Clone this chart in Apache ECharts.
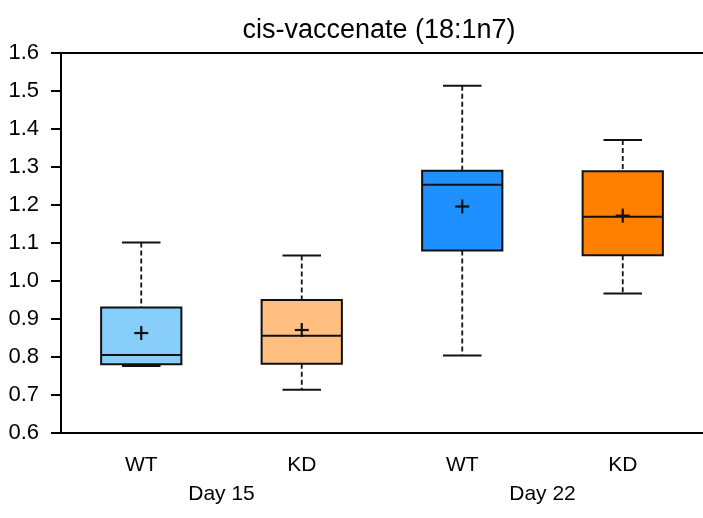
<!DOCTYPE html>
<html>
<head>
<meta charset="utf-8">
<script src="https://cdn.jsdelivr.net/npm/echarts@6/dist/echarts.min.js"></script>
<style>html,body{margin:0;padding:0;background:#fff}#c{width:703px;height:518px}</style>
</head>
<body>
<div id="c"></div>
<script>
const titleText = 'cis-vaccenate (18:1n7)';
const categories = ['WT', 'KD', 'WT', 'KD'];
const groups = ['Day 15', 'Day 22'];
const minV = [0.776, 0.714, 0.804, 0.967];
const q1V = [0.781, 0.782, 1.080, 1.068];
const medV = [0.805, 0.856, 1.253, 1.169];
const q3V = [0.930, 0.950, 1.290, 1.289];
const maxV = [1.101, 1.067, 1.514, 1.371];
const meanV = [0.863, 0.871, 1.196, 1.172];
const boxColors = ['#87CEFA', '#FFBF80', '#1E90FF', '#FF8000'];

const FONT = "'Liberation Sans', Arial, sans-serif";
const data = categories.map((c, i) => [i, minV[i], q1V[i], medV[i], q3V[i], maxV[i], meanV[i]]);

const chart = echarts.init(document.getElementById('c'), null, {renderer: 'canvas'});
chart.setOption({
  animation: false,
  backgroundColor: '#fff',
  title: {
    text: titleText, left: 374, top: 12, textAlign: 'center',
    textStyle: {fontFamily: FONT, fontSize: 27, fontWeight: 'normal', color: '#000'}
  },
  grid: {left: 61, right: 0, top: 53, bottom: 85, containLabel: false},
  xAxis: [
    {
      type: 'category', data: categories, position: 'bottom',
      axisLine: {lineStyle: {color: '#000', width: 2}},
      axisTick: {alignWithLabel: true, length: 10, lineStyle: {color: '#000', width: 2}},
      axisLabel: {fontFamily: FONT, fontSize: 21, color: '#000', margin: 22}
    },
    {
      type: 'category', data: categories, position: 'top',
      axisLine: {lineStyle: {color: '#000', width: 2}},
      axisTick: {show: false}, axisLabel: {show: false}
    },
    {
      type: 'category', data: groups, position: 'bottom',
      axisLine: {show: false}, axisTick: {show: false},
      axisLabel: {fontFamily: FONT, fontSize: 21, color: '#000', margin: 51}
    }
  ],
  yAxis: {
    type: 'value', min: 0.6, max: 1.6, interval: 0.1,
    axisLine: {show: true, lineStyle: {color: '#000', width: 2}},
    axisTick: {show: true, length: 10, lineStyle: {color: '#000', width: 2}},
    splitLine: {show: false},
    axisLabel: {fontFamily: FONT, fontSize: 22, color: '#000', margin: 22,
      formatter: v => v.toFixed(1)}
  },
  series: [{
    type: 'custom',
    xAxisIndex: 0, yAxisIndex: 0,
    data: data,
    clip: false,
    encode: {x: 0, y: [1, 2, 3, 4, 5, 6]},
    renderItem: function (params, api) {
      const idx = api.value(0);
      const band = api.size([1, 0])[0];
      const bw = band * 0.5;
      const cw = band * 0.24;
      const pMin = api.coord([idx, api.value(1)]);
      const pQ1 = api.coord([idx, api.value(2)]);
      const pMed = api.coord([idx, api.value(3)]);
      const pQ3 = api.coord([idx, api.value(4)]);
      const pMax = api.coord([idx, api.value(5)]);
      const pMean = api.coord([idx, api.value(6)]);
      const cx = pMed[0];
      const black = '#111';
      const dash = {stroke: black, lineWidth: 1.8, lineDash: [5, 3]};
      const solid = {stroke: black, lineWidth: 2};
      const pm = 7;
      return {
        type: 'group',
        children: [
          {type: 'line', shape: {x1: cx, y1: pMax[1], x2: cx, y2: pQ3[1]}, style: dash},
          {type: 'line', shape: {x1: cx, y1: pQ1[1], x2: cx, y2: pMin[1]}, style: dash},
          {type: 'line', shape: {x1: cx - cw / 2, y1: pMax[1], x2: cx + cw / 2, y2: pMax[1]}, style: solid},
          {type: 'line', shape: {x1: cx - cw / 2, y1: pMin[1], x2: cx + cw / 2, y2: pMin[1]}, style: solid},
          {type: 'rect', shape: {x: cx - bw / 2, y: pQ3[1], width: bw, height: pQ1[1] - pQ3[1]},
            style: {fill: boxColors[idx], stroke: black, lineWidth: 2}},
          {type: 'line', shape: {x1: cx - bw / 2, y1: pMed[1], x2: cx + bw / 2, y2: pMed[1]}, style: solid},
          {type: 'line', shape: {x1: cx - pm, y1: pMean[1], x2: cx + pm, y2: pMean[1]}, style: {stroke: black, lineWidth: 2.2}},
          {type: 'line', shape: {x1: cx, y1: pMean[1] - pm, x2: cx, y2: pMean[1] + pm}, style: {stroke: black, lineWidth: 2.2}}
        ]
      };
    }
  }]
});
</script>
</body>
</html>
